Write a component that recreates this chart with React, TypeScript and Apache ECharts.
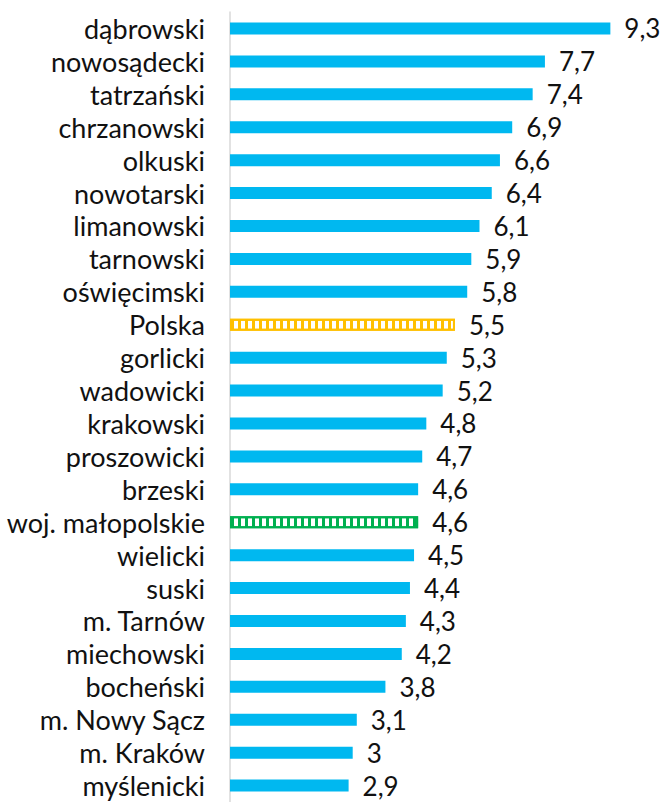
import React, { useEffect, useRef } from "react";
import * as echarts from "echarts";

const categories = [
  "dąbrowski", "nowosądecki", "tatrzański", "chrzanowski", "olkuski", "nowotarski",
  "limanowski", "tarnowski", "oświęcimski", "Polska", "gorlicki", "wadowicki",
  "krakowski", "proszowicki", "brzeski", "woj. małopolskie", "wielicki", "suski",
  "m. Tarnów", "miechowski", "bocheński", "m. Nowy Sącz", "m. Kraków", "myślenicki",
];
const values = [
  9.3, 7.7, 7.4, 6.9, 6.6, 6.4, 6.1, 5.9, 5.8, 5.5, 5.3, 5.2,
  4.8, 4.7, 4.6, 4.6, 4.5, 4.4, 4.3, 4.2, 3.8, 3.1, 3, 2.9,
];

const BLUE = "#00B8F0";
const YELLOW = "#FFC000";
const GREEN = "#00B050";

const special: Record<string, string> = { "Polska": YELLOW, "woj. małopolskie": GREEN };

export default function App() {
  const ref = useRef<HTMLDivElement>(null);
  useEffect(() => {
    if (!ref.current) return;
    const chart = echarts.init(ref.current, null, { renderer: "svg" });
    const data = categories.map((c, i) => {
      const col = special[c];
      if (col) {
        return {
          value: values[i],
          itemStyle: {
            color: "#FFFFFF",
            borderColor: col,
            borderWidth: 2,
            decal: {
              symbol: "rect",
              symbolSize: 1,
              dashArrayX: [3, 4],
              dashArrayY: [20, 0],
              rotation: 0,
              color: col,
            },
          },
        };
      }
      return { value: values[i], itemStyle: { color: BLUE } };
    });
    chart.setOption({
      animation: false,
      textStyle: { fontFamily: "Lato" },
      grid: { left: 230, top: 12, width: 409, height: 792, containLabel: false },
      xAxis: {
        type: "value",
        min: 0,
        max: 10,
        show: false,
      },
      yAxis: {
        type: "category",
        inverse: true,
        data: categories,
        axisLine: { show: true, lineStyle: { color: "#D9D9D9", width: 1.5 } },
        axisTick: { show: false },
        axisLabel: {
          interval: 0,
          hideOverlap: false,
          color: "#111111",
          fontSize: 27,
          fontFamily: "Lato",
          margin: 25,
        },
      },
      series: [
        {
          type: "bar",
          data,
          barWidth: 12,
          label: {
            show: true,
            position: "right",
            distance: 14,
            color: "#111111",
            fontSize: 26,
            fontFamily: "Lato",
            formatter: (p: any) => String(p.value).replace(".", ","),
          },
        },
      ],
    });
    return () => chart.dispose();
  }, []);
  return (
    <div
      ref={ref}
      style={{ position: "fixed", left: 0, top: 0, width: 663, height: 802, background: "#fff" }}
    />
  );
}
